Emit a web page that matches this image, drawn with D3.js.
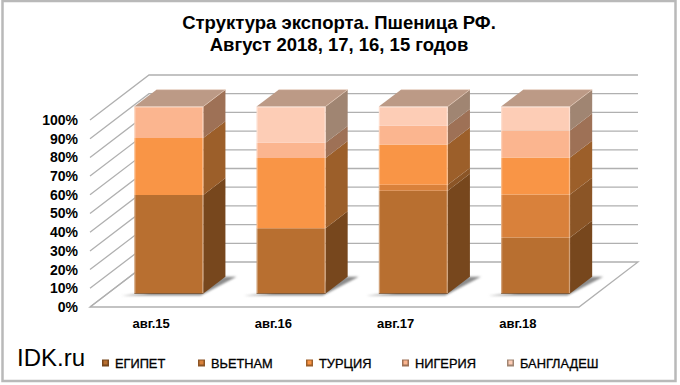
<!DOCTYPE html>
<html>
<head>
<meta charset="utf-8">
<script src="https://cdnjs.cloudflare.com/ajax/libs/d3/7.8.5/d3.min.js"></script>
<style>
  html, body { margin: 0; padding: 0; background: #fff; }
  svg { display: block; font-family: "Liberation Sans", Arial, sans-serif; }
</style>
</head>
<body>
<div id="chart"></div>
<script>
const categories = ["авг.15", "авг.16", "авг.17", "авг.18"]
const seriesNames = ["ЕГИПЕТ", "ВЬЕТНАМ", "ТУРЦИЯ", "НИГЕРИЯ", "БАНГЛАДЕШ"]
const egypt = [52.7, 34.9, 55.0, 29.9]
const vietnam = [0, 0, 3.1, 23.0]
const turkey = [30.4, 37.6, 21.6, 19.8]
const nigeria = [16.9, 8.1, 10.0, 14.5]
const bangladesh = [0, 19.4, 10.3, 12.8]
const percentTicks = [0, 10, 20, 30, 40, 50, 60, 70, 80, 90, 100]

const frontColors = ["#b86f30", "#d9813b", "#f99546", "#fbb58f", "#fdcdb6"]
const sideColors = ["#77471d", "#8b5526", "#9c5f2a", "#9e7156", "#a08572"]
const topColors = ["#bc9a86", "#bc9a86", "#bc9a86", "#bc9a86", "#bc9a86"]

const width = 680
const height = 385

const svg = d3.select("#chart").append("svg")
  .attr("width", width)
  .attr("height", height)

const defs = svg.append("defs")
defs.append("filter").attr("id", "soft")
  .attr("x", "-20%").attr("y", "-50%").attr("width", "140%").attr("height", "200%")
  .append("feGaussianBlur").attr("stdDeviation", 0.9)

// Outer frame
svg.append("rect")
  .attr("x", 2.5).attr("y", 1)
  .attr("width", 673).attr("height", 380)
  .attr("fill", "#fff")
  .attr("stroke", "#b9b9b9")
  .attr("stroke-width", 2.5)

// Title
const title = svg.append("text")
  .attr("text-anchor", "middle")
  .attr("font-size", "18.5px")
  .attr("font-weight", "bold")
  .attr("fill", "#000")
title.append("tspan").attr("x", 339).attr("y", 29).text("Структура экспорта. Пшеница РФ.")
title.append("tspan").attr("x", 339).attr("y", 51).text("Август 2018, 17, 16, 15 годов")

// Scales. x and y describe the front plane of the floor, depth moves into the picture
const x = d3.scaleBand().domain(categories).range([90, 579])
  .paddingInner(0.436).paddingOuter(0.218)
const xOuter = d3.scaleBand().domain(categories).range([90, 579])
const y = d3.scaleLinear().domain([0, 100]).range([307, 120])
const depthX = d3.scaleLinear().domain([0, 1]).range([0, 59])
const depthY = d3.scaleLinear().domain([0, 1]).range([0, -45])

const barFront = 0.3
const barBack = 0.675
const pt = (px, py, t) => [px + depthX(t), py + depthY(t)]
const poly = pts => pts.map(p => p.map(v => v.toFixed(2)).join(",")).join(" ")

const [x0, x1] = xOuter.range()

// Walls and floor
const grid = svg.append("g").attr("fill", "none").attr("stroke", "#b0b0b0").attr("stroke-width", 1.3)
percentTicks.forEach(tick => {
  const a = pt(x0, y(tick), 0)
  const b = pt(x0, y(tick), 1)
  const c = pt(x1, y(tick), 1)
  grid.append("polyline").attr("points", poly(tick === 0 ? [a, b] : [a, b, c]))
})
grid.append("polygon")
  .attr("points", poly([pt(x0, y(0), 0), pt(x1, y(0), 0), pt(x1, y(0), 1), pt(x0, y(0), 1)]))

// Stack the series
const rows = categories.map((c, i) => ({
  category: c,
  0: egypt[i], 1: vietnam[i], 2: turkey[i], 3: nigeria[i], 4: bangladesh[i]
}))
const stacked = d3.stack().keys([0, 1, 2, 3, 4])(rows)

// Floor shadows
svg.append("g").attr("filter", "url(#soft)")
  .selectAll("polygon")
  .data(categories)
  .join("polygon")
  .attr("fill", "#8c8c8c")
  .attr("points", c => {
    const l = x(c) - 10
    const r = x(c) + x.bandwidth()
    return poly([
      pt(l, y(0), barFront - 0.045),
      pt(r, y(0), barFront - 0.045),
      pt(r + 11, y(0), barBack),
      pt(r, y(0), barBack),
      pt(l + 20, y(0), barFront)
    ])
  })

// Bars
const bars = svg.append("g")
categories.forEach((c, ci) => {
  const g = bars.append("g")
  const left = x(c)
  const right = left + x.bandwidth()

  stacked.forEach((layer, si) => {
    const [v0, v1] = layer[ci]
    if (v1 - v0 <= 0) return

    g.append("polygon")
      .attr("fill", sideColors[si])
      .attr("points", poly([
        pt(right, y(v0), barFront), pt(right, y(v1), barFront),
        pt(right, y(v1), barBack), pt(right, y(v0), barBack)
      ]))

    g.append("polygon")
      .attr("fill", frontColors[si])
      .attr("points", poly([
        pt(left, y(v0), barFront), pt(right, y(v0), barFront),
        pt(right, y(v1), barFront), pt(left, y(v1), barFront)
      ]))

    if (v1 >= 100) {
      g.append("polygon")
        .attr("fill", topColors[si])
        .attr("points", poly([
          pt(left, y(v1), barFront), pt(right, y(v1), barFront),
          pt(right, y(v1), barBack), pt(left, y(v1), barBack)
        ]))
    }
  })

  // Bevel on the edges of the bar
  const ink = g.append("g").attr("fill", "none")
  ink.append("polyline")
    .attr("stroke", "#fff").attr("stroke-opacity", 0.35).attr("stroke-width", 1.2)
    .attr("points", poly([
      pt(left + 0.6, y(0), barFront), pt(left + 0.6, y(100) + 0.6, barFront),
      pt(right - 0.6, y(100) + 0.6, barFront), pt(right - 0.6, y(0), barFront)
    ]))
  ink.append("polyline")
    .attr("stroke", "#e8cdbb").attr("stroke-opacity", 0.6).attr("stroke-width", 1)
    .attr("points", poly([pt(right, y(100), barFront), pt(right, y(100), barBack), pt(left, y(100), barBack)]))
  ink.append("line")
    .attr("stroke", "#5f3a1a").attr("stroke-opacity", 0.55)
    .attr("x1", pt(left, y(0), barFront)[0]).attr("y1", pt(left, y(0), barFront)[1])
    .attr("x2", pt(right, y(0), barFront)[0]).attr("y2", pt(right, y(0), barFront)[1])
})

// Value axis
const yAxis = svg.append("g")
  .attr("transform", `translate(${x0 + 1},0)`)
  .call(d3.axisLeft(y).tickValues(percentTicks).tickFormat(d => d + "%").tickSize(0).tickPadding(13))
yAxis.select(".domain").remove()
yAxis.selectAll("text")
  .attr("font-family", "'Liberation Sans', Arial, sans-serif")
  .attr("font-size", "14px")
  .attr("font-weight", "bold")
  .attr("fill", "#000")

// Category axis
const xAxis = svg.append("g")
  .attr("transform", `translate(0,${y(0) + 6})`)
  .call(d3.axisBottom(xOuter).tickSize(0).tickPadding(6))
xAxis.select(".domain").remove()
xAxis.selectAll("text")
  .attr("font-family", "'Liberation Sans', Arial, sans-serif")
  .attr("font-size", "13px")
  .attr("font-weight", "bold")
  .attr("fill", "#000")

// Watermark
svg.append("text")
  .attr("x", 17).attr("y", 366)
  .attr("font-size", "24px")
  .attr("fill", "#000")
  .text("IDK.ru")

// Legend
const legendX = [102, 198, 306, 402, 507]
const legend = svg.append("g")
seriesNames.forEach((name, i) => {
  const item = legend.append("g").attr("transform", `translate(${legendX[i]},363)`)
  item.append("rect")
    .attr("x", 0).attr("y", -3.5).attr("width", 7).attr("height", 7)
    .attr("fill", sideColors[i])
  item.append("rect")
    .attr("x", 1.5).attr("y", -2.5).attr("width", 4).attr("height", 4)
    .attr("fill", frontColors[i])
  item.append("text")
    .attr("x", 13).attr("y", 4.5)
    .attr("font-size", "12.8px")
    .attr("fill", "#000")
    .attr("stroke", "#000")
    .attr("stroke-width", 0.3)
    .text(name)
})
</script>
</body>
</html>
